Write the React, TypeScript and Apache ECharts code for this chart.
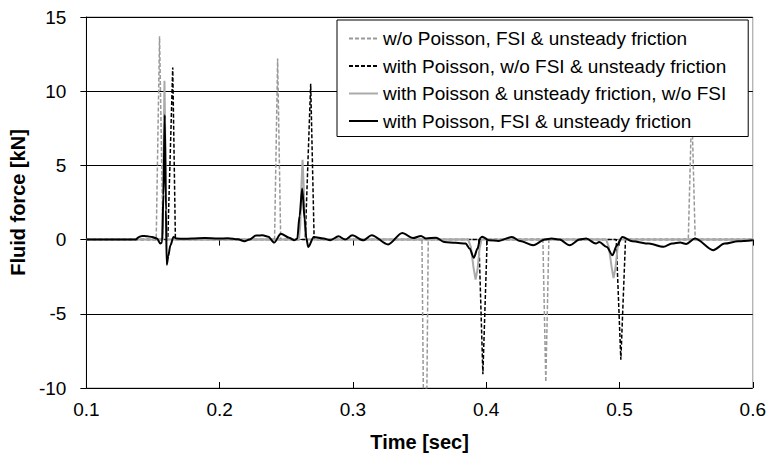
import React, { useEffect, useRef } from "react";
import * as echarts from "echarts";

const xTicks = [0.1, 0.2, 0.3, 0.4, 0.5, 0.6];
const yTicks = [-10, -5, 0, 5, 10, 15];

const seriesNames = [
  "w/o Poisson, FSI & unsteady friction",
  "with Poisson, w/o FSI & unsteady friction",
  "with Poisson & unsteady friction, w/o FSI",
  "with Poisson, FSI & unsteady friction",
];

// grey dashed: w/o Poisson, FSI & unsteady friction
const noPoissonT = [0.1, 0.1524, 0.1549, 0.1575, 0.2412, 0.2435, 0.2458, 0.3518, 0.3528, 0.3555, 0.3565, 0.4425, 0.4447, 0.447, 0.5516, 0.5542, 0.5568, 0.6];
const noPoissonV = [0, 0, 13.7, 0, 0, 12.2, 0, 0, -10, -10, 0, 0, -9.6, 0, 0, 9, 0, 0];

// black dashed: with Poisson, w/o FSI & unsteady friction
const poissonT = [0.1, 0.1611, 0.1648, 0.1668, 0.2642, 0.2683, 0.2709, 0.3945, 0.3975, 0.4007, 0.4975, 0.501, 0.5045, 0.6];
const poissonV = [0, 0, 11.6, 0, 0, 10.5, 0, 0, -9.07, 0, 0, -8.1, 0, 0];

// grey solid: with Poisson & unsteady friction, w/o FSI
const frictionT = [0.1, 0.1572, 0.1586, 0.1602, 0.2595, 0.2605, 0.2613, 0.2622, 0.2631, 0.2639, 0.265, 0.3865, 0.3885, 0.3905, 0.392, 0.3935, 0.395, 0.3965, 0.49, 0.492, 0.494, 0.4955, 0.497, 0.4985, 0.5, 0.6];
const frictionV = [0, 0, 10.7, 0, 0, 1.0, 3.5, 5.37, 3.5, 1.0, 0, 0, -0.5, -1.9, -2.7, -2.0, -0.6, 0, 0, -0.5, -1.8, -2.6, -1.9, -0.6, 0, 0];

// black solid: with Poisson, FSI & unsteady friction
const fsiT = [0.1, 0.137, 0.1395, 0.1418, 0.1455, 0.1493, 0.153, 0.1555, 0.1568, 0.1578, 0.1588, 0.1597, 0.1603, 0.1615, 0.163, 0.1654, 0.1678, 0.173, 0.179, 0.1889, 0.1988, 0.2062, 0.2137, 0.2186, 0.2224, 0.2273, 0.2322, 0.2365, 0.2409, 0.2459, 0.2521, 0.2558, 0.2582, 0.26, 0.2619, 0.2638, 0.265, 0.2665, 0.2706, 0.278, 0.283, 0.2892, 0.2942, 0.2995, 0.3078, 0.314, 0.3264, 0.337, 0.345, 0.3511, 0.3548, 0.3623, 0.3684, 0.3771, 0.3846, 0.3875, 0.3907, 0.3935, 0.3955, 0.397, 0.4019, 0.4093, 0.4193, 0.4254, 0.4353, 0.444, 0.449, 0.455, 0.4626, 0.47, 0.475, 0.4823, 0.4848, 0.4905, 0.4947, 0.498, 0.5021, 0.5096, 0.522, 0.5331, 0.5393, 0.5455, 0.55, 0.5567, 0.5703, 0.5789, 0.5889, 0.6];
const fsiV = [0, 0, 0.18, 0.25, 0.22, 0.18, 0.07, -0.27, -0.2, 3.0, 8.4, 2.0, -1.7, -1.1, -0.4, 0.18, 0.07, 0.06, 0.07, 0.11, 0.07, 0.09, 0.02, -0.11, 0, 0.27, 0.29, 0.2, -0.2, 0.4, 0.13, -0.04, 0.05, 1.6, 3.45, 1.4, 0.1, -0.5, 0.18, 0.07, -0.04, 0.22, 0.0, 0.29, -0.05, 0.3, -0.33, 0.45, 0.1, 0.25, 0.07, 0.13, -0.16, -0.22, -0.27, -0.6, -1.22, -0.6, 0.1, 0.2, -0.04, -0.09, 0.18, -0.1, -0.38, 0, 0.07, 0.0, -0.38, 0, 0.07, -0.27, -0.16, -0.5, -1.05, -0.4, 0.18, -0.11, -0.27, -0.49, -0.27, -0.2, -0.3, 0.07, -0.71, -0.27, -0.11, -0.04];

const zip = (t: number[], v: number[]) => t.map((x, i) => [x, v[i]]);

const FONT = "'Liberation Sans', Arial, sans-serif";

export default function App() {
  const ref = useRef<HTMLDivElement>(null);
  useEffect(() => {
    if (!ref.current) return;
    const chart = echarts.init(ref.current, undefined, { renderer: "svg" });
    chart.setOption({
      animation: false,
      backgroundColor: "#fff",
      textStyle: { fontFamily: FONT },
      grid: {
        left: 82,
        right: 16,
        top: 17,
        bottom: 66,
        show: true,
        borderColor: "#999",
        borderWidth: 1,
      },
      legend: {
        orient: "vertical",
        left: 337,
        top: 20,
        padding: [9, 22, 6, 11],
        itemGap: 8.5,
        itemWidth: 29,
        itemHeight: 14,
        backgroundColor: "#fff",
        borderColor: "#000",
        borderWidth: 1,
        borderRadius: 0,
        itemStyle: { opacity: 0, borderWidth: 0 },
        textStyle: { fontSize: 19, color: "#000", fontFamily: FONT, lineHeight: 19 },
        data: seriesNames,
        z: 10,
      },
      xAxis: [
        {
          type: "value",
          min: xTicks[0],
          max: xTicks[xTicks.length - 1],
          interval: 0.1,
          axisLine: { show: true, lineStyle: { color: "#000", width: 1 } },
          axisTick: { show: true, inside: false, length: 6, lineStyle: { color: "#000" } },
          axisLabel: {
            fontSize: 19,
            color: "#000",
            margin: 12,
            fontFamily: FONT,
            formatter: (v: number) => v.toFixed(1),
          },
          splitLine: { show: false },
          name: "Time [sec]",
          nameLocation: "middle",
          nameGap: 44,
          nameTextStyle: { fontSize: 20, fontWeight: "bold", color: "#000", fontFamily: FONT },
        },
        {
          type: "value",
          min: xTicks[0],
          max: xTicks[xTicks.length - 1],
          interval: 0.1,
          position: "bottom",
          axisLine: { show: false },
          axisTick: { show: true, inside: true, length: 6, lineStyle: { color: "#000" } },
          axisLabel: { show: false },
          splitLine: { show: false },
        },
      ],
      yAxis: {
        type: "value",
        min: yTicks[0],
        max: yTicks[yTicks.length - 1],
        interval: 5,
        axisLine: { show: true, lineStyle: { color: "#000", width: 1 } },
        axisTick: { show: true, inside: false, length: 6, lineStyle: { color: "#000" } },
        axisLabel: { fontSize: 19, color: "#000", margin: 20, fontFamily: FONT },
        splitLine: { show: true, lineStyle: { color: "#000", width: 1 } },
        name: "Fluid force [kN]",
        nameLocation: "middle",
        nameGap: 44,
        nameRotate: 90,
        nameTextStyle: { fontSize: 20, fontWeight: "bold", color: "#000", fontFamily: FONT },
      },
      series: [
        {
          name: seriesNames[0],
          type: "line",
          data: zip(noPoissonT, noPoissonV),
          symbol: "none",
          lineStyle: { color: "#999", width: 1.5, type: [4, 2] },
          itemStyle: { color: "#999" },
          z: 2,
        },
        {
          name: seriesNames[1],
          type: "line",
          data: zip(poissonT, poissonV),
          symbol: "none",
          lineStyle: { color: "#000", width: 1.5, type: [4, 2] },
          itemStyle: { color: "#000" },
          z: 3,
        },
        {
          name: seriesNames[2],
          type: "line",
          data: zip(frictionT, frictionV),
          symbol: "none",
          lineStyle: { color: "#aaa", width: 2 },
          itemStyle: { color: "#aaa" },
          z: 4,
        },
        {
          name: seriesNames[3],
          type: "line",
          data: zip(fsiT, fsiV),
          symbol: "none",
          smooth: 0.3,
          smoothMonotone: "x",
          lineStyle: { color: "#000", width: 2 },
          itemStyle: { color: "#000" },
          z: 5,
        },
      ],
    });
    return () => chart.dispose();
  }, []);
  return (
    <div
      ref={ref}
      style={{ position: "fixed", left: 0, top: 0, width: 769, height: 457 }}
    />
  );
}
